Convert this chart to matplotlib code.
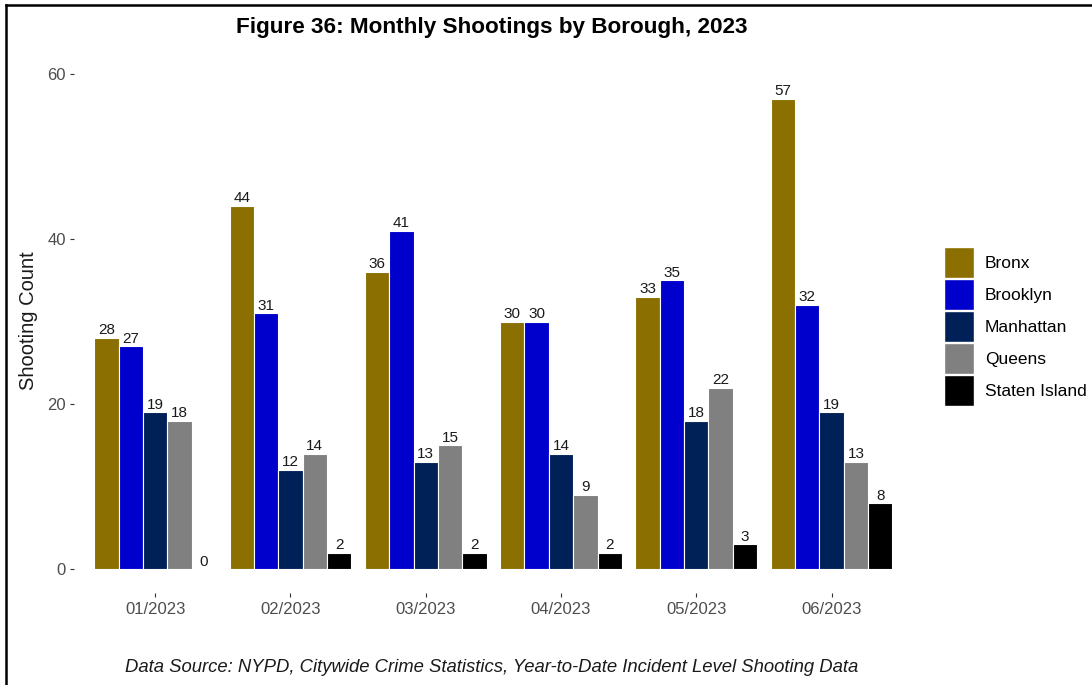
import numpy as np
import matplotlib
matplotlib.use("Agg")
import matplotlib.pyplot as plt
from matplotlib.lines import Line2D

# --- data ---
months = ["01/2023", "02/2023", "03/2023", "04/2023", "05/2023", "06/2023"]
boroughs = ["Bronx", "Brooklyn", "Manhattan", "Queens", "Staten Island"]
bronx = [28, 44, 36, 30, 33, 57]
brooklyn = [27, 31, 41, 30, 35, 32]
manhattan = [19, 12, 13, 14, 18, 19]
queens = [18, 14, 15, 9, 22, 13]
staten_island = [0, 2, 2, 2, 3, 8]
colors = ["#8B6F00", "#0000CD", "#002157", "#808080", "#000000"]

series = [bronx, brooklyn, manhattan, queens, staten_island]

plt.rcParams['font.family'] = ['Liberation Sans', 'DejaVu Sans']

fig = plt.figure(figsize=(10.92, 6.85), dpi=100)
ax = fig.add_axes([0.0678, 0.134, 0.768, 0.769])

x = np.arange(1, len(months) + 1)
w = 0.9 / len(boroughs)
for i, (name, vals) in enumerate(zip(boroughs, series)):
    pos = x - 0.45 + w * (i + 0.5)
    ax.bar(pos, vals, width=w, color=colors[i], edgecolor="white",
           linewidth=0.8, label=name)
    for px, v in zip(pos, vals):
        ax.annotate(str(v), (px, v), xytext=(0, 0.5), textcoords="offset points",
                    ha="center", va="bottom", fontsize=11, color="#1a1a1a")

ax.set_xlim(0.4, 6.6)
ax.set_ylim(-2.9, 60.9)
ax.set_xticks(x)
ax.set_xticklabels(months)
ax.set_yticks([0, 20, 40, 60])
ax.tick_params(axis="both", color="#333333", labelcolor="#4D4D4D",
               labelsize=12, length=3, width=0.8, pad=3)
for s in ax.spines.values():
    s.set_visible(False)

fig.text(29 / 1092, 1 - 321 / 685, "Shooting Count", rotation=90,
         ha="center", va="center", fontsize=14.5, color="#1a1a1a")

# legend
handles = [plt.Rectangle((0, 0), 1, 1, facecolor=c, edgecolor="white") for c in colors]
leg = fig.legend(handles, boroughs, loc="center left",
                 bbox_to_anchor=(944 / 1092, 1 - 326.5 / 685), frameon=False,
                 fontsize=12.5, handlelength=1.72, handleheight=2.33,
                 handletextpad=0.63, labelspacing=0.08, borderaxespad=0,
                 borderpad=0)

fig.text(0.4505, 1 - 28 / 685, "Figure 36: Monthly Shootings by Borough, 2023",
         ha="center", va="center", fontsize=16.2, fontweight="bold")
fig.text(0.4505, 1 - 667 / 685,
         "Data Source: NYPD, Citywide Crime Statistics, Year-to-Date Incident Level Shooting Data",
         ha="center", va="center", fontsize=13.3, style="italic", color="#1a1a1a")

# outer border (left and top edges)
fig.add_artist(Line2D([6 / 1092, 6 / 1092], [0, 1 - 5 / 685],
                      transform=fig.transFigure, color="black", linewidth=1.8))
fig.add_artist(Line2D([6 / 1092, 1], [1 - 5 / 685, 1 - 5 / 685],
                      transform=fig.transFigure, color="black", linewidth=1.8))

fig.savefig("out.png", dpi=100)
